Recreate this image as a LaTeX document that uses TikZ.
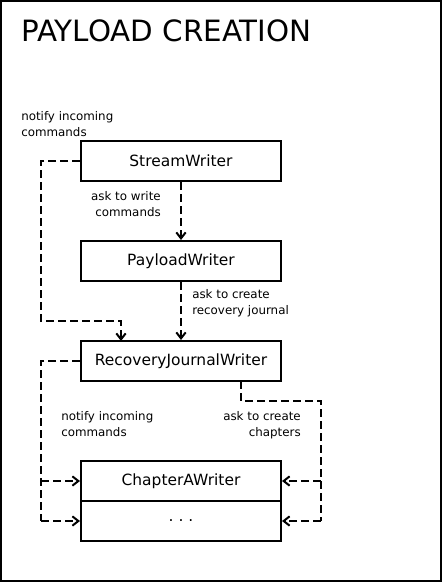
\documentclass[tikz,border=0pt]{standalone}
\usepackage{fontspec}
\setmainfont{DejaVu Sans}
\usepackage{xcolor}
\definecolor{Col1}{RGB}{0,0,0}
\definecolor{Col2}{RGB}{255,255,255}
\usepackage{tikz}
\usetikzlibrary{arrows.meta}
\tikzstyle{Frame}=[draw=Col1,fill=Col2,line width=1.5pt]
\tikzstyle{Box}=[rectangle,draw=Col1,line width=1.5pt,minimum width=150pt,
minimum height=30pt,inner sep=0pt,font=\fontsize{11.6}{13}\selectfont]
\tikzstyle{Link}=[draw=Col1,line width=1.5pt,dash pattern=on 6pt off 3pt,
-{Straight Barb[length=4.5pt,width=7pt,line width=1.5pt]}]
\tikzstyle{Lane}=[draw=Col1,line width=1.5pt,dash pattern=on 6pt off 3pt]
\tikzstyle{NodeLabel}=[inner sep=0pt,font=\fontsize{8.9}{12}\selectfont]
\tikzstyle{Title}=[inner sep=0pt,anchor=north west,font=\fontsize{22}{26}\selectfont]

\begin{document}
\begin{tikzpicture}[x=0.75pt,y=-0.75pt]
        \useasboundingbox(0.00,0.00)rectangle(442.00,582.00);
        \draw[Frame](1.00,1.00)rectangle(441.00,581.00);
        \node[Title](title)at(21.00,19.00){PAYLOAD CREATION};
        \node[Box](sw)at(181.00,161.00){StreamWriter};
        \node[Box](pw)at(181.00,261.00){PayloadWriter};
        \node[Box](rjw)at(181.00,361.00){RecoveryJournalWriter};
        \node[Box](caw)at(181.00,481.00){ChapterAWriter};
        \node[Box](more)at(181.00,521.00){.\ .\ .};
        \coordinate(l1)at(41.00,321.00);
        \coordinate(t1)at(121.00,341.00);
        \coordinate(l2)at(41.00,361.00);
        \coordinate(l3)at(41.00,481.00);
        \coordinate(l4)at(41.00,521.00);
        \coordinate(b1)at(241.00,381.00);
        \coordinate(r1)at(321.00,401.00);
        \coordinate(r2)at(321.00,481.00);
        \coordinate(r3)at(321.00,521.00);
        \draw[Link](sw.west)-|(l1)-|(t1);
        \draw[Link](sw.south)--(pw.north);
        \draw[Link](pw.south)--(rjw.north);
        \draw[Lane](rjw.west)--(l2)--(l4);
        \draw[Link](l3)--(caw.west);
        \draw[Link](l4)--(more.west);
        \draw[Lane](b1)|-(r1)--(r3);
        \draw[Link](r2)--(caw.east);
        \draw[Link](r3)--(more.east);
        \node[NodeLabel,anchor=north west,align=left](n1)at(21.00,111.00)
                {notify incoming\\commands};
        \node[NodeLabel,anchor=north east,align=right](n2)at(161.00,191.00)
                {ask to write\\commands};
        \node[NodeLabel,anchor=north west,align=left](n3)at(192.00,289.00)
                {ask to create\\recovery journal};
        \node[NodeLabel,anchor=north west,align=left](n4)at(61.00,411.00)
                {notify incoming\\commands};
        \node[NodeLabel,anchor=north east,align=right](n5)at(301.00,411.00)
                {ask to create\\chapters};
    \end{tikzpicture}
\end{document}
